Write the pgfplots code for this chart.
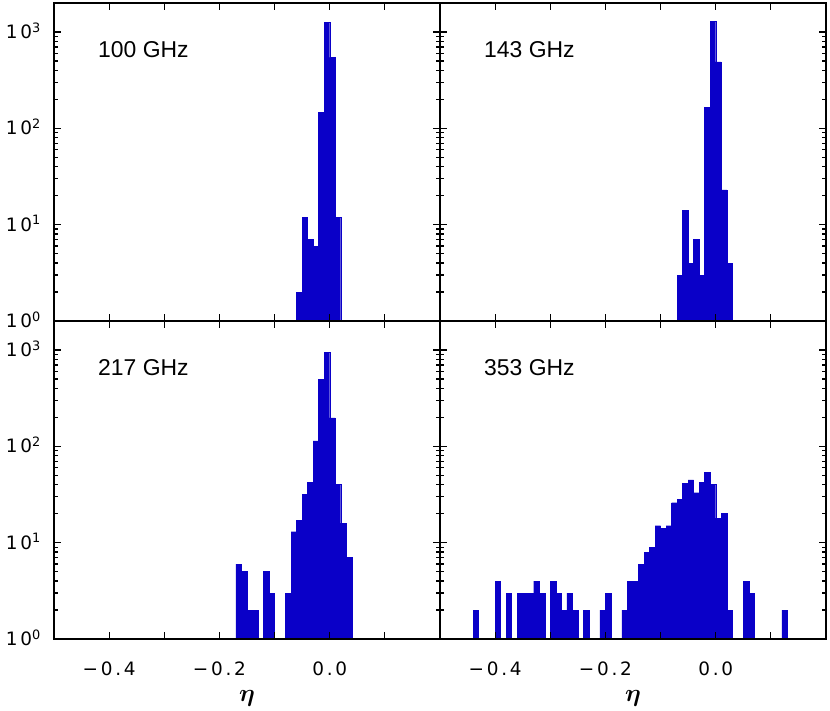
\documentclass[border=0pt]{standalone}
\usepackage{amsmath}
\usepackage{fontspec}
\setmainfont{Liberation Sans}
\newfontfamily\tickfont[LetterSpace=15]{DejaVu Sans}
\usepackage{pgfplots}
\pgfplotsset{compat=1.18}
\usepgfplotslibrary{groupplots}
\definecolor{barblue}{RGB}{10,0,200}

\pgfplotsset{
  hist/.style={ybar, bar width=0.01, fill=barblue, draw=barblue, line width=0.4bp},
}
\tikzset{panel/.style={anchor=base west, inner sep=0pt, font=\fontsize{23}{23}\selectfont}}

\begin{document}
\begin{tikzpicture}
\begin{groupplot}[
  group style={group size=2 by 2, horizontal sep=0pt, vertical sep=0pt},
  scale only axis, width=386bp, height=318bp,
  xmin=-0.5, xmax=0.2, ymode=log, ymin=1, ymax=2000,
  xtick={-0.4,-0.3,-0.2,-0.1,0,0.1},
  xticklabels={−0.4,,−0.2,,0.0,},
  ytick={1,10,100,1000},
  yticklabels={10\textsuperscript{0},10\textsuperscript{1},10\textsuperscript{2},10\textsuperscript{3}},
  minor ytick={2,3,4,5,6,7,8,9,20,30,40,50,60,70,80,90,200,300,400,500,600,700,800,900},
  tick align=inside, tick pos=both,
  xticklabel pos=lower, yticklabel pos=left,
  major tick length=7bp, minor tick length=4bp,
  axis line style={line width=1.4bp},
  every tick/.append style={line width=1.2bp, black},
  axis on top,
  tick label style={font=\tickfont\fontsize{18.5}{18.5}\selectfont, inner sep=0pt},
  xticklabel style={anchor=base, yshift=-36bp},
  yticklabel style={anchor=base east, xshift=-13bp, yshift=-6.5bp},
  xlabel style={font=\fontsize{25}{25}\selectfont, at={(rel axis cs:0.5,0)}, anchor=base, yshift=-62bp, inner sep=0pt},
]
% 100 GHz
\nextgroupplot[xticklabels={}]
\coordinate (tl) at (rel axis cs:0,1);
\addplot[hist] coordinates {
  (-0.055,2) (-0.045,12) (-0.035,7) (-0.025,6)
  (-0.015,147) (-0.005,1260) (0.005,546) (0.015,12)
};
\node[panel] at (rel axis cs:0.114,0.83) {100 GHz};

% 143 GHz
\nextgroupplot[xticklabels={}, yticklabels={}]
\addplot[hist] coordinates {
  (-0.065,3) (-0.055,14) (-0.045,4) (-0.035,7) (-0.025,3)
  (-0.015,166) (-0.005,1290) (0.005,490) (0.015,23) (0.025,4)
};
\node[panel] at (rel axis cs:0.114,0.83) {143 GHz};

% 217 GHz
\nextgroupplot[xlabel={$\boldsymbol{\eta}$}]
\addplot[hist] coordinates {
  (-0.165,6) (-0.155,5) (-0.145,2) (-0.135,2)
  (-0.115,5) (-0.105,3)
  (-0.075,3) (-0.065,13) (-0.055,17) (-0.045,32) (-0.035,42)
  (-0.025,114) (-0.015,497) (-0.005,951) (0.005,198)
  (0.015,40) (0.025,16) (0.035,7)
};
\node[panel] at (rel axis cs:0.114,0.83) {217 GHz};

% 353 GHz
\nextgroupplot[xlabel={$\boldsymbol{\eta}$}, yticklabels={}]
\addplot[hist] coordinates {
  (-0.435,2) (-0.395,4) (-0.375,3)
  (-0.355,3) (-0.345,3) (-0.335,3) (-0.325,4) (-0.315,3)
  (-0.295,4) (-0.285,3) (-0.275,2) (-0.265,3) (-0.255,2)
  (-0.235,2) (-0.205,2) (-0.195,3)
  (-0.165,2) (-0.155,4) (-0.145,4) (-0.135,6) (-0.125,8) (-0.115,9)
  (-0.105,15) (-0.095,14) (-0.085,15) (-0.075,26) (-0.065,28)
  (-0.055,41) (-0.045,45) (-0.035,33) (-0.025,42) (-0.015,54)
  (-0.005,40) (0.005,18) (0.015,20) (0.025,2)
  (0.055,4) (0.065,3) (0.125,2)
};
\node[panel] at (rel axis cs:0.114,0.83) {353 GHz};
\coordinate (br) at (rel axis cs:1,0);
\end{groupplot}
\pgfresetboundingbox
\path[use as bounding box] ([xshift=-54bp,yshift=3bp]tl) rectangle ([xshift=4bp,yshift=-71bp]br);
\end{tikzpicture}
\end{document}
